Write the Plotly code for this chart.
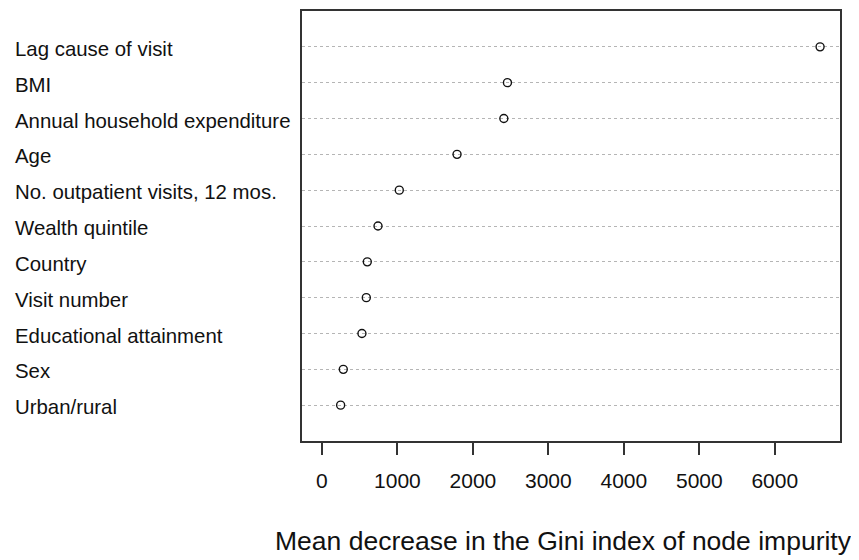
import plotly.graph_objects as go

# Variables, top to bottom as shown
variables = [
    "Lag cause of visit",
    "BMI",
    "Annual household expenditure",
    "Age",
    "No. outpatient visits, 12 mos.",
    "Wealth quintile",
    "Country",
    "Visit number",
    "Educational attainment",
    "Sex",
    "Urban/rural",
]
gini_decrease = [6600, 2458, 2410, 1790, 1025, 743, 601, 588, 530, 283, 248]
x_tick_values = [0, 1000, 2000, 3000, 4000, 5000, 6000]
x_tick_labels = ["0", "1000", "2000", "3000", "4000", "5000", "6000"]
x_title = "Mean decrease in the Gini index of node impurity"

# page body has an 8px margin; work in window pixels and offset
OFF = 8
WIN_W, WIN_H = 859, 560
W, H = WIN_W - OFF, WIN_H - OFF
box_l, box_r, box_t, box_b = 302, 840, 9, 441
L = box_l - OFF
R = WIN_W - box_r
T = box_t - OFF
B = WIN_H - box_b
FONT = "Liberation Sans, Arial, sans-serif"

order = list(reversed(variables))

fig = go.Figure()
fig.add_trace(go.Scatter(
    x=gini_decrease,
    y=variables,
    mode="markers",
    marker=dict(symbol="circle-open", size=8, color="#111111",
                line=dict(width=1.4, color="#111111")),
    showlegend=False,
    cliponaxis=False,
))

xmax = max(gini_decrease)
pad = 0.04 * xmax

fig.update_layout(
    width=W, height=H, autosize=False,
    margin=dict(l=L, r=R, t=T, b=B),
    paper_bgcolor="white", plot_bgcolor="white",
    font=dict(family=FONT, size=20, color="#111111"),
    xaxis=dict(
        range=[-pad, xmax + pad],
        tickvals=x_tick_values, ticktext=x_tick_labels,
        showgrid=False, zeroline=False,
        showline=True, mirror=True, linecolor="#333333", linewidth=1.5,
        ticks="outside", ticklen=12, tickwidth=1.5, tickcolor="#333333",
        tickfont=dict(family=FONT, size=21, color="#111111"),
        ticklabelstandoff=8,
    ),
    yaxis=dict(
        type="category", categoryorder="array", categoryarray=order,
        range=[-1, len(order)],
        showticklabels=False, ticks="",
        showgrid=True, griddash="dot", gridcolor="#b5b5b5", gridwidth=1,
        zeroline=False,
        showline=True, mirror=True, linecolor="#333333", linewidth=1.5,
    ),
)

plot_w = box_r - box_l
plot_h = box_b - box_t
for name in variables:
    fig.add_annotation(
        x=(13 - box_l) / plot_w, xref="paper", xanchor="left",
        y=name, yref="y", yanchor="middle", yshift=-2,
        text=name, showarrow=False,
        font=dict(family=FONT, size=20.4, color="#111111"),
    )

fig.add_annotation(
    x=(563 - box_l) / plot_w, xref="paper", xanchor="center",
    y=(box_b - 541) / plot_h, yref="paper", yanchor="middle",
    text=x_title, showarrow=False,
    font=dict(family=FONT, size=26.5, color="#111111"),
)

fig.write_html("out.html")
